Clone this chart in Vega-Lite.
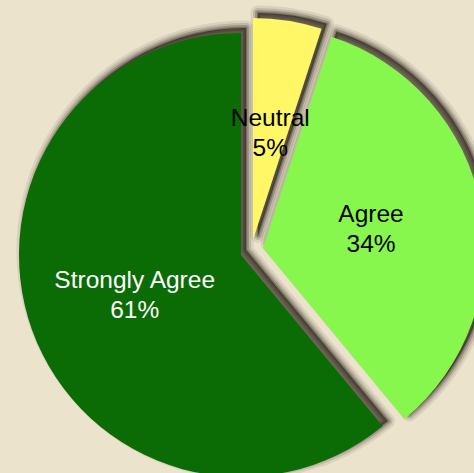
{
  "$schema": "https://vega.github.io/schema/vega-lite/v6.json",
  "width": 482,
  "height": 510,
  "autosize": "none",
  "padding": 0,
  "background": "#ece3cd",
  "config": {"view": {"stroke": null}},
  "data": {"values": [
    {"category": "Neutral", "value": 5},
    {"category": "Agree", "value": 34},
    {"category": "Strongly Agree", "value": 61}
  ]},
  "transform": [
    {"stack": "value", "groupby": [], "sort": [{"field": "value", "order": "ascending"}], "as": ["v0", "v1"]},
    {"calculate": "(datum.v0 + datum.v1) / 2", "as": "mid"},
    {"calculate": "datum.category + '\\n' + datum.value + '%'", "as": "label"}
  ],
  "layer": [
    {"transform": [{"filter": "datum.category == 'Strongly Agree'"}],
     "mark": {"type": "arc", "outerRadius": 222, "xOffset": 5, "yOffset": -5, "fill": "#241d12", "fillOpacity": 0.6, "stroke": "#241d12", "strokeOpacity": 0.09, "strokeWidth": 15, "strokeJoin": "round"},
     "encoding": {"theta": {"field": "v0", "type": "quantitative", "scale": {"domain": [0, 100]}}, "theta2": {"field": "v1"}}},
    {"transform": [{"filter": "datum.category == 'Strongly Agree'"}],
     "mark": {"type": "arc", "outerRadius": 222, "xOffset": 5, "yOffset": -5, "fillOpacity": 0, "stroke": "#241d12", "strokeOpacity": 0.14, "strokeWidth": 10, "strokeJoin": "round"},
     "encoding": {"theta": {"field": "v0", "type": "quantitative", "scale": {"domain": [0, 100]}}, "theta2": {"field": "v1"}}},
    {"transform": [{"filter": "datum.category == 'Strongly Agree'"}],
     "mark": {"type": "arc", "outerRadius": 222, "xOffset": 5, "yOffset": -5, "fillOpacity": 0, "stroke": "#241d12", "strokeOpacity": 0.22, "strokeWidth": 6, "strokeJoin": "round"},
     "encoding": {"theta": {"field": "v0", "type": "quantitative", "scale": {"domain": [0, 100]}}, "theta2": {"field": "v1"}}},
    {"transform": [{"filter": "datum.category == 'Strongly Agree'"}],
     "mark": {"type": "arc", "outerRadius": 222, "xOffset": 5, "yOffset": -5, "fillOpacity": 0, "stroke": "#241d12", "strokeOpacity": 0.3, "strokeWidth": 2.5, "strokeJoin": "round"},
     "encoding": {"theta": {"field": "v0", "type": "quantitative", "scale": {"domain": [0, 100]}}, "theta2": {"field": "v1"}}},

    {"transform": [{"filter": "datum.category == 'Agree'"}],
     "mark": {"type": "arc", "outerRadius": 222, "xOffset": 27, "yOffset": -12, "fill": "#241d12", "fillOpacity": 0.6, "stroke": "#241d12", "strokeOpacity": 0.09, "strokeWidth": 15, "strokeJoin": "round"},
     "encoding": {"theta": {"field": "v0", "type": "quantitative", "scale": {"domain": [0, 100]}}, "theta2": {"field": "v1"}}},
    {"transform": [{"filter": "datum.category == 'Agree'"}],
     "mark": {"type": "arc", "outerRadius": 222, "xOffset": 27, "yOffset": -12, "fillOpacity": 0, "stroke": "#241d12", "strokeOpacity": 0.14, "strokeWidth": 10, "strokeJoin": "round"},
     "encoding": {"theta": {"field": "v0", "type": "quantitative", "scale": {"domain": [0, 100]}}, "theta2": {"field": "v1"}}},
    {"transform": [{"filter": "datum.category == 'Agree'"}],
     "mark": {"type": "arc", "outerRadius": 222, "xOffset": 27, "yOffset": -12, "fillOpacity": 0, "stroke": "#241d12", "strokeOpacity": 0.22, "strokeWidth": 6, "strokeJoin": "round"},
     "encoding": {"theta": {"field": "v0", "type": "quantitative", "scale": {"domain": [0, 100]}}, "theta2": {"field": "v1"}}},
    {"transform": [{"filter": "datum.category == 'Agree'"}],
     "mark": {"type": "arc", "outerRadius": 222, "xOffset": 27, "yOffset": -12, "fillOpacity": 0, "stroke": "#241d12", "strokeOpacity": 0.3, "strokeWidth": 2.5, "strokeJoin": "round"},
     "encoding": {"theta": {"field": "v0", "type": "quantitative", "scale": {"domain": [0, 100]}}, "theta2": {"field": "v1"}}},

    {"transform": [{"filter": "datum.category == 'Neutral'"}],
     "mark": {"type": "arc", "outerRadius": 222, "xOffset": 17, "yOffset": -20, "fill": "#241d12", "fillOpacity": 0.6, "stroke": "#241d12", "strokeOpacity": 0.09, "strokeWidth": 15, "strokeJoin": "round"},
     "encoding": {"theta": {"field": "v0", "type": "quantitative", "scale": {"domain": [0, 100]}}, "theta2": {"field": "v1"}}},
    {"transform": [{"filter": "datum.category == 'Neutral'"}],
     "mark": {"type": "arc", "outerRadius": 222, "xOffset": 17, "yOffset": -20, "fillOpacity": 0, "stroke": "#241d12", "strokeOpacity": 0.14, "strokeWidth": 10, "strokeJoin": "round"},
     "encoding": {"theta": {"field": "v0", "type": "quantitative", "scale": {"domain": [0, 100]}}, "theta2": {"field": "v1"}}},
    {"transform": [{"filter": "datum.category == 'Neutral'"}],
     "mark": {"type": "arc", "outerRadius": 222, "xOffset": 17, "yOffset": -20, "fillOpacity": 0, "stroke": "#241d12", "strokeOpacity": 0.22, "strokeWidth": 6, "strokeJoin": "round"},
     "encoding": {"theta": {"field": "v0", "type": "quantitative", "scale": {"domain": [0, 100]}}, "theta2": {"field": "v1"}}},
    {"transform": [{"filter": "datum.category == 'Neutral'"}],
     "mark": {"type": "arc", "outerRadius": 222, "xOffset": 17, "yOffset": -20, "fillOpacity": 0, "stroke": "#241d12", "strokeOpacity": 0.3, "strokeWidth": 2.5, "strokeJoin": "round"},
     "encoding": {"theta": {"field": "v0", "type": "quantitative", "scale": {"domain": [0, 100]}}, "theta2": {"field": "v1"}}},

    {"transform": [{"filter": "datum.category == 'Strongly Agree'"}],
     "mark": {"type": "arc", "outerRadius": 222, "fill": "#0b6b05"},
     "encoding": {"theta": {"field": "v0", "type": "quantitative", "scale": {"domain": [0, 100]}}, "theta2": {"field": "v1"}}},
    {"transform": [{"filter": "datum.category == 'Agree'"}],
     "mark": {"type": "arc", "outerRadius": 222, "xOffset": 22, "yOffset": -7, "fill": "#87f74e"},
     "encoding": {"theta": {"field": "v0", "type": "quantitative", "scale": {"domain": [0, 100]}}, "theta2": {"field": "v1"}}},
    {"transform": [{"filter": "datum.category == 'Neutral'"}],
     "mark": {"type": "arc", "outerRadius": 222, "xOffset": 12, "yOffset": -15, "fill": "#fff766"},
     "encoding": {"theta": {"field": "v0", "type": "quantitative", "scale": {"domain": [0, 100]}}, "theta2": {"field": "v1"}}},

    {"transform": [{"filter": "datum.category == 'Strongly Agree'"}],
     "mark": {"type": "text", "radius": 113, "dy": -12, "font": "Liberation Sans", "fontSize": 24.5, "lineHeight": 30, "lineBreak": "\n", "align": "center", "baseline": "middle", "fill": "#ffffff"},
     "encoding": {"theta": {"field": "mid", "type": "quantitative", "scale": {"domain": [0, 100]}}, "text": {"field": "label"}}},
    {"transform": [{"filter": "datum.category == 'Agree'"}],
     "mark": {"type": "text", "radius": 110, "dy": -12, "xOffset": 22, "yOffset": -7, "font": "Liberation Sans", "fontSize": 24.5, "lineHeight": 30, "lineBreak": "\n", "align": "center", "baseline": "middle", "fill": "#000000"},
     "encoding": {"theta": {"field": "mid", "type": "quantitative", "scale": {"domain": [0, 100]}}, "text": {"field": "label"}}},
    {"transform": [{"filter": "datum.category == 'Neutral'"}],
     "mark": {"type": "text", "radius": 110, "dy": -12, "xOffset": 12, "yOffset": -15, "font": "Liberation Sans", "fontSize": 24.5, "lineHeight": 30, "lineBreak": "\n", "align": "center", "baseline": "middle", "fill": "#000000"},
     "encoding": {"theta": {"field": "mid", "type": "quantitative", "scale": {"domain": [0, 100]}}, "text": {"field": "label"}}}
  ]
}
